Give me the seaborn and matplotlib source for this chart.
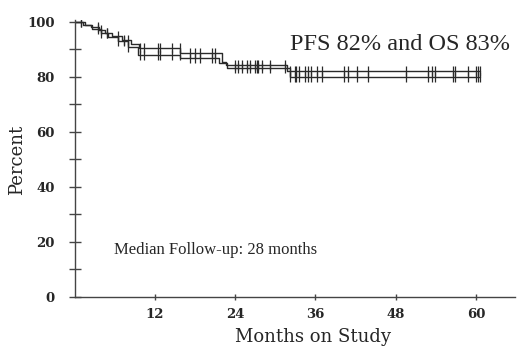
import matplotlib
matplotlib.use("Agg")
import matplotlib.pyplot as plt
import numpy as np
import pandas as pd
import seaborn as sns

# step curves (months, percent)
os_months = [0, 1.2, 2.4, 3.6, 4.6, 5.6, 7.0, 8.4, 9.6, 15.8, 22.0, 22.6, 31.8, 60.6]
os_pct = [100, 99, 98, 97, 96, 95, 93.5, 92, 90.5, 88.6, 85.5, 84.4, 82, 82]
pfs_months = [0, 1.5, 2.6, 4.0, 5.0, 6.4, 8.0, 9.4, 15.8, 21.6, 22.8, 32.2, 60.6]
pfs_pct = [100, 99, 97.5, 96, 94.5, 93, 91, 88, 86.8, 85, 83.2, 80, 80]

# censored observations (months)
censored = [1.0, 3.5, 4.0, 4.8, 6.5, 7.3, 8.0, 9.8, 10.3, 12.5, 12.8, 14.5, 15.7,
            17.2, 18.0, 18.7, 20.5, 21.0, 24.0, 24.4, 25.0, 25.8, 26.2, 26.9, 27.2,
            27.4, 28.0, 29.2, 31.4, 32.2, 32.9, 33.1, 33.6, 34.4, 34.9, 35.4, 36.2,
            36.9, 40.2, 40.9, 42.2, 43.9, 49.6, 52.8, 53.4, 53.9, 56.6, 56.8, 58.8,
            60.0, 60.3, 60.6]

x_ticks = [12, 24, 36, 48, 60]
y_ticks = [0, 20, 40, 60, 80, 100]

sns.set_style("white")
plt.rcParams['font.family'] = ['Liberation Serif', 'DejaVu Serif']

fig = plt.figure(figsize=(5.2, 3.58), dpi=100)
ax = fig.add_axes([0.1437, 0.1704, 0.8463, 0.774])

line_col = '#2a2a2a'
for months, pct in [(os_months, os_pct), (pfs_months, pfs_pct)]:
    df = pd.DataFrame({'months': months, 'pct': pct})
    sns.lineplot(data=df, x='months', y='pct', drawstyle='steps-post',
                 color=line_col, linewidth=1.0, estimator=None, ax=ax)
    # value of the curve at each censoring time
    idx = np.searchsorted(np.array(months), np.array(censored), side='right') - 1
    cdf = pd.DataFrame({'months': censored, 'pct': np.array(pct)[idx]})
    sns.scatterplot(data=cdf, x='months', y='pct', marker='|', s=55,
                    color=line_col, linewidth=0.9, ax=ax)

ax.set_xlim(0, 65.8)
ax.set_ylim(0, 100.7)
ax.set_xticks(x_ticks)
ax.set_yticks(y_ticks)
ax.set_yticks([10, 30, 50, 70, 90], minor=True)

for s in ['top', 'right']:
    ax.spines[s].set_visible(False)
for s in ['left', 'bottom']:
    ax.spines[s].set_color('#444444')
    ax.spines[s].set_linewidth(1.0)

ax.tick_params(axis='y', which='both', direction='inout', length=9, width=1,
               color='#444444', left=True, pad=10)
ax.tick_params(axis='x', which='both', direction='inout', length=4, width=1,
               color='#444444', bottom=True, pad=6)
for lab in ax.get_xticklabels() + ax.get_yticklabels():
    lab.set_fontweight('bold')
    lab.set_family('DejaVu Serif')
    lab.set_fontsize(9.5)

ax.set_xlabel('Months on Study', fontsize=13, family='DejaVu Serif')
ax.set_ylabel('Percent', fontsize=13, family='DejaVu Serif')
ax.xaxis.set_label_coords(0.541, -0.112)
ax.yaxis.set_label_coords(-0.111, 0.495)

ax.text(48.6, 91.6, 'PFS 82% and OS 83%', fontsize=17.5, ha='center', va='center')
ax.text(21.0, 17.1, 'Median Follow-up: 28 months', fontsize=12, ha='center', va='center')

fig.savefig('out.png', dpi=100)
